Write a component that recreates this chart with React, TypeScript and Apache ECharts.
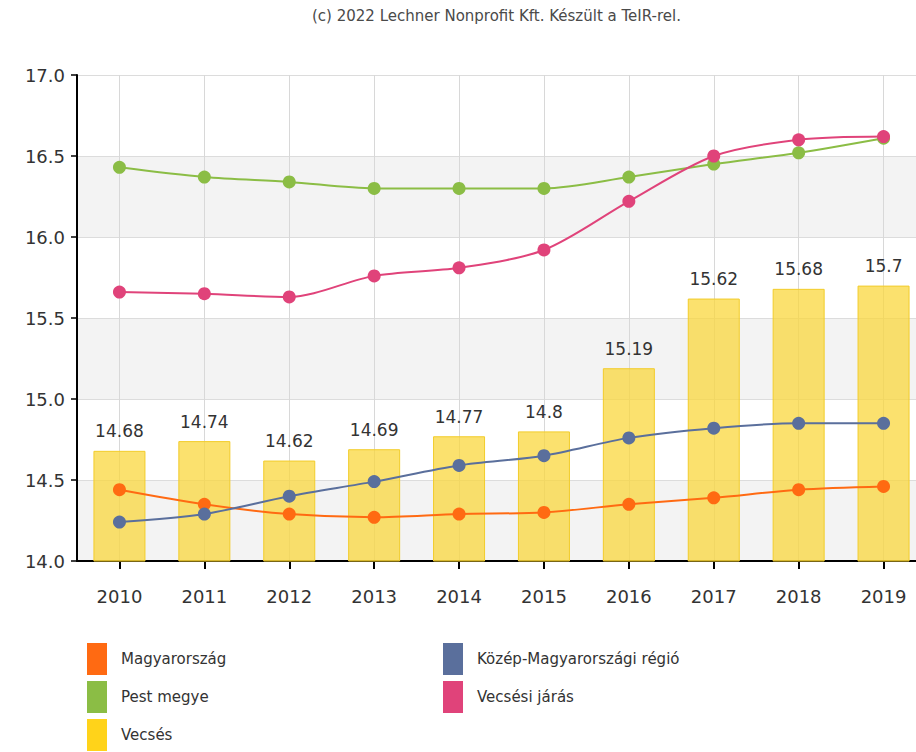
import React, { useEffect, useRef } from "react";
import * as echarts from "echarts";

const years = ["2010", "2011", "2012", "2013", "2014", "2015", "2016", "2017", "2018", "2019"];
const magyarorszag = [14.44, 14.35, 14.29, 14.27, 14.29, 14.30, 14.35, 14.39, 14.44, 14.46];
const kozepMagyar = [14.24, 14.29, 14.40, 14.49, 14.59, 14.65, 14.76, 14.82, 14.85, 14.85];
const pestMegye = [16.43, 16.37, 16.34, 16.30, 16.30, 16.30, 16.37, 16.45, 16.52, 16.61];
const vecsesiJaras = [15.66, 15.65, 15.63, 15.76, 15.81, 15.92, 16.22, 16.50, 16.60, 16.62];
const vecses = [14.68, 14.74, 14.62, 14.69, 14.77, 14.8, 15.19, 15.62, 15.68, 15.7];
const yTicks = { min: 14, max: 17, interval: 0.5 };
const titleText = "(c) 2022 Lechner Nonprofit Kft. Készült a TeIR-rel.";

const FONT = "DejaVu Sans";
const C = {
  orange: "#ff6a12",
  blue: "#5a6f9c",
  green: "#8bbd45",
  pink: "#e0437a",
  yellow: "#ffd31a",
};

function lineSeries(name: string, data: number[], color: string) {
  return {
    name,
    type: "line",
    data,
    smooth: 0.3,
    symbol: "circle",
    symbolSize: 13,
    itemStyle: { color },
    lineStyle: { color, width: 2 },
    z: 5,
  };
}

const legendCommon = {
  orient: "vertical",
  top: 643,
  height: 120,
  padding: 0,
  itemWidth: 20,
  itemHeight: 32,
  itemGap: 6,
  icon: "rect",
  selectedMode: false,
  textStyle: { fontFamily: FONT, fontSize: 15, color: "#333", padding: [0, 0, 0, 9] },
};

export default function App() {
  const ref = useRef<HTMLDivElement>(null);
  useEffect(() => {
    if (!ref.current) return;
    const chart = echarts.init(ref.current, undefined, { renderer: "svg" });
    chart.setOption({
      animation: false,
      backgroundColor: "#ffffff",
      title: {
        text: titleText,
        left: 312,
        top: 8,
        padding: 0,
        textStyle: { fontFamily: FONT, fontSize: 15, fontWeight: "normal", color: "#4a4a4a" },
      },
      grid: { left: 77, top: 75, width: 849, height: 486, containLabel: false, outerBoundsMode: "none" },
      legend: [
        {
          ...legendCommon,
          left: 87,
          data: [
            { name: "Magyarország" },
            { name: "Pest megye" },
            { name: "Vecsés", itemStyle: { color: C.yellow, borderWidth: 0 } },
          ],
        },
        {
          ...legendCommon,
          left: 443,
          data: [{ name: "Közép-Magyarországi régió" }, { name: "Vecsési járás" }],
        },
      ],
      xAxis: {
        type: "category",
        data: years,
        boundaryGap: true,
        axisLine: { show: true, lineStyle: { color: "#000", width: 2 } },
        axisTick: { show: true, alignWithLabel: true, length: 8, lineStyle: { color: "#000", width: 2 } },
        axisLabel: { fontFamily: FONT, fontSize: 18, color: "#333", margin: 26 },
        splitLine: { show: false },
      },
      yAxis: {
        type: "value",
        min: yTicks.min,
        max: yTicks.max,
        interval: yTicks.interval,
        axisLine: { show: true, lineStyle: { color: "#000", width: 2 } },
        axisTick: { show: true, length: 6, lineStyle: { color: "#000", width: 1.5 } },
        axisLabel: {
          fontFamily: FONT,
          fontSize: 18,
          color: "#333",
          margin: 12,
          formatter: (v: number) => v.toFixed(1),
        },
        splitLine: { show: true, lineStyle: { color: "#dcdcdc", width: 1 } },
        splitArea: { show: true, areaStyle: { color: ["#f3f3f3", "#ffffff"] } },
      },
      series: [
        {
          name: "gridlines",
          type: "line",
          data: [],
          z: 0,
          silent: true,
          markLine: {
            silent: true,
            z: 0,
            symbol: "none",
            label: { show: false },
            lineStyle: { color: "#d8d8d8", width: 1, type: "solid" },
            data: years.map((y) => ({ xAxis: y })),
          },
        },
        {
          name: "Vecsés",
          type: "bar",
          data: vecses,
          barWidth: 52,
          itemStyle: { color: "rgba(250, 214, 60, 0.74)", borderColor: "#f2cc2a", borderWidth: 1 },
          label: {
            show: true,
            position: "top",
            distance: 11,
            fontFamily: FONT,
            fontSize: 17,
            color: "#333",
            formatter: (p: any) => String(p.value),
          },
          z: 3,
        },
        lineSeries("Magyarország", magyarorszag, C.orange),
        lineSeries("Közép-Magyarországi régió", kozepMagyar, C.blue),
        lineSeries("Pest megye", pestMegye, C.green),
        lineSeries("Vecsési járás", vecsesiJaras, C.pink),
      ],
    });
    return () => chart.dispose();
  }, []);
  return <div ref={ref} style={{ position: "fixed", left: 0, top: 0, width: 916, height: 752 }} />;
}
